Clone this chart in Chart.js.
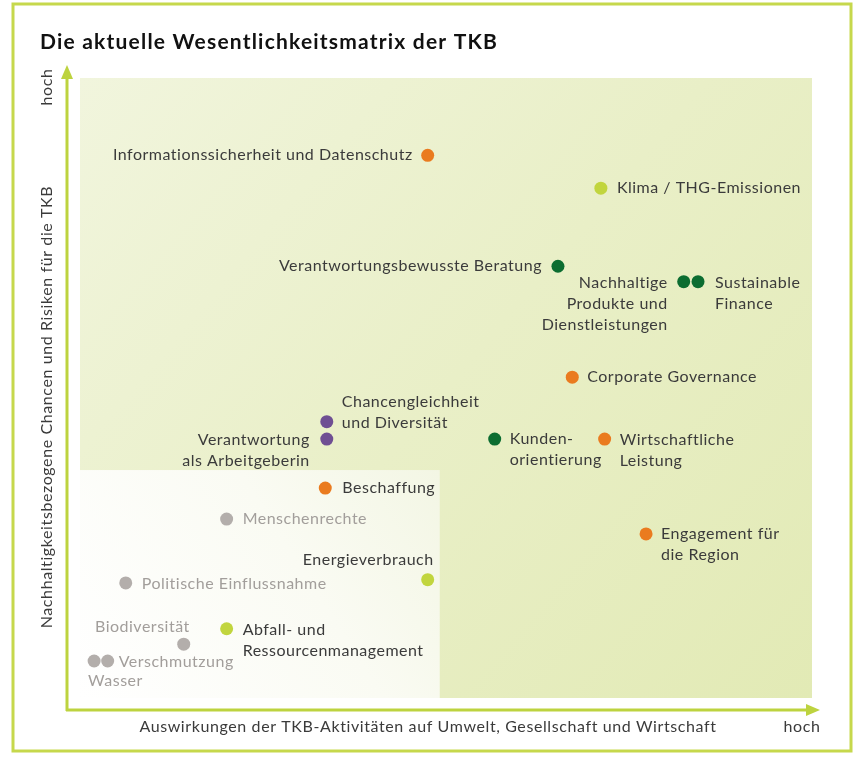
<!DOCTYPE html>
<html lang="de">
<head>
<meta charset="utf-8">
<title>Wesentlichkeitsmatrix TKB</title>
<script src="https://cdn.jsdelivr.net/npm/chart.js@4/dist/chart.umd.min.js"></script>
<style>
  html, body { margin: 0; padding: 0; background: #fff; }
  #wrap { position: relative; width: 861px; height: 759px; }
</style>
</head>
<body>
<div id="wrap"><canvas id="matrix" width="861" height="759"></canvas></div>
<script>
const matrix = document.getElementById('matrix')

// Themen der Matrix (Zeilenumbrüche wie im Original)
const topics = [
  'Informationssicherheit und Datenschutz',
  'Klima / THG-Emissionen',
  'Verantwortungsbewusste Beratung',
  'Nachhaltige\nProdukte und\nDienstleistungen',
  'Sustainable\nFinance',
  'Corporate Governance',
  'Chancengleichheit\nund Diversität',
  'Verantwortung\nals Arbeitgeberin',
  'Kunden-\norientierung',
  'Wirtschaftliche\nLeistung',
  'Beschaffung',
  'Menschenrechte',
  'Engagement für\ndie Region',
  'Energieverbrauch',
  'Politische Einflussnahme',
  'Biodiversität',
  'Abfall- und\nRessourcenmanagement',
  'Wasser',
  'Verschmutzung'
]
// Auswirkungen (x) und Chancen/Risiken (y), Skala 0..100
const impact = [47.9, 70.9, 65.2, 81.9, 83.8, 67.1, 34.5, 34.5, 56.8, 71.4, 34.3, 21.2, 76.9, 47.9, 7.8, 15.5, 21.2, 3.6, 5.4]
const relevance = [86.0, 80.9, 68.8, 66.4, 66.4, 51.6, 44.7, 42.0, 42.0, 42.0, 34.4, 29.6, 27.3, 20.2, 19.7, 10.2, 12.6, 7.6, 7.6]
const dimension = ['gov', 'env', 'eco', 'eco', 'eco', 'gov', 'soc', 'soc', 'eco', 'gov', 'gov', 'minor', 'gov', 'env', 'minor', 'minor', 'env', 'minor', 'minor']
// Grenze des Bereichs mit geringer Wesentlichkeit
const lowZone = { x: 49.5, y: 37.2 }

const colors = {
  gov: '#ea7b1f',
  env: '#c1d53e',
  eco: '#0c6d31',
  soc: '#6f4f93',
  minor: '#b3aeab'
}
const axisColor = '#bdd33f'
const textDark = '#3b3b3b'
const textGrey = '#a29e9b'
const fontFamily = 'Lato, "Open Sans", sans-serif'
const fontSize = 16
const lineHeight = 21

// Position der Beschriftung relativ zum Punkt
const labelPlacement = [
  { align: 'right', dx: -15, dy: 0 },
  { align: 'left', dx: 16, dy: 0 },
  { align: 'right', dx: -16, dy: 0 },
  { align: 'right', dx: -16, dy: 1 },
  { align: 'left', dx: 17, dy: 1 },
  { align: 'left', dx: 15, dy: 0 },
  { align: 'left', dx: 15, dy: -20 },
  { align: 'right', dx: -17, dy: 1 },
  { align: 'left', dx: 15, dy: 0 },
  { align: 'left', dx: 15, dy: 1 },
  { align: 'left', dx: 17, dy: 0 },
  { align: 'left', dx: 16, dy: 0 },
  { align: 'left', dx: 15, dy: 0 },
  { align: 'right', dx: 6, dy: -20 },
  { align: 'left', dx: 16, dy: 1 },
  { align: 'right', dx: 6, dy: -17 },
  { align: 'left', dx: 16, dy: 1 },
  { align: 'left', dx: -6, dy: 20 },
  { align: 'left', dx: 11, dy: 1 }
]

const matrixDecor = {
  id: 'matrixDecor',
  beforeDatasetsDraw(chart) {
    const {ctx, chartArea, scales} = chart
    const x = scales.x, y = scales.y
    ctx.save()

    // Rahmen
    ctx.strokeStyle = '#c6d84c'
    ctx.lineWidth = 3
    ctx.strokeRect(13, 4, 838, 747)

    // Titel
    ctx.fillStyle = '#111'
    ctx.font = 'bold 21px ' + fontFamily
    ctx.letterSpacing = '1.2px'
    ctx.textBaseline = 'alphabetic'
    ctx.textAlign = 'left'
    ctx.fillText('Die aktuelle Wesentlichkeitsmatrix der TKB', 40, 49)
    ctx.letterSpacing = '0px'

    // Hintergrund der Matrix
    const left = chartArea.left + 13, right = chartArea.right - 8
    const top = chartArea.top + 13, bottom = chartArea.bottom - 12
    const g = ctx.createLinearGradient(left, top, right, bottom)
    g.addColorStop(0, '#f1f5dd')
    g.addColorStop(0.5, '#e9efc7')
    g.addColorStop(1, '#e2eab5')
    ctx.fillStyle = g
    ctx.fillRect(left, top, right - left, bottom - top)

    const zx = x.getPixelForValue(lowZone.x), zy = y.getPixelForValue(lowZone.y)
    const g2 = ctx.createLinearGradient(left, bottom, zx, zy)
    g2.addColorStop(0, '#ffffff')
    g2.addColorStop(0.6, '#fafbf3')
    g2.addColorStop(1, '#f3f6e4')
    ctx.fillStyle = g2
    ctx.fillRect(left, zy, zx - left, bottom - zy)

    // Achsen mit Pfeilen
    const ox = chartArea.left, oy = chartArea.bottom
    ctx.strokeStyle = axisColor
    ctx.fillStyle = axisColor
    ctx.lineWidth = 3
    ctx.beginPath()
    ctx.moveTo(ox, oy + 1)
    ctx.lineTo(ox, chartArea.top + 10)
    ctx.moveTo(ox - 1, oy)
    ctx.lineTo(chartArea.right - 10, oy)
    ctx.stroke()
    ctx.beginPath()
    ctx.moveTo(ox, chartArea.top)
    ctx.lineTo(ox - 6, chartArea.top + 14)
    ctx.lineTo(ox + 6, chartArea.top + 14)
    ctx.closePath()
    ctx.fill()
    ctx.beginPath()
    ctx.moveTo(chartArea.right, oy)
    ctx.lineTo(chartArea.right - 14, oy - 6)
    ctx.lineTo(chartArea.right - 14, oy + 6)
    ctx.closePath()
    ctx.fill()

    // Achsentitel
    ctx.fillStyle = textDark
    ctx.font = '16px ' + fontFamily
    ctx.letterSpacing = '0.6px'
    ctx.textBaseline = 'middle'
    ctx.textAlign = 'center'
    ctx.fillText('Auswirkungen der TKB-Aktivitäten auf Umwelt, Gesellschaft und Wirtschaft', 428, 727)
    ctx.fillText('hoch', 802, 727)
    ctx.save()
    ctx.translate(47, 407)
    ctx.rotate(-Math.PI / 2)
    ctx.fillText('Nachhaltigkeitsbezogene Chancen und Risiken für die TKB', 0, 0)
    ctx.restore()
    ctx.save()
    ctx.translate(47, 87)
    ctx.rotate(-Math.PI / 2)
    ctx.fillText('hoch', 0, 0)
    ctx.restore()

    ctx.restore()
  },
  afterDatasetsDraw(chart) {
    const {ctx} = chart
    const meta = chart.getDatasetMeta(0)
    ctx.save()
    ctx.font = fontSize + 'px ' + fontFamily
    ctx.letterSpacing = '0.5px'
    ctx.textBaseline = 'middle'
    meta.data.forEach((pt, i) => {
      const p = labelPlacement[i]
      ctx.fillStyle = dimension[i] === 'minor' ? textGrey : textDark
      ctx.textAlign = p.align
      topics[i].split('\n').forEach((line, k) => {
        ctx.fillText(line, pt.x + p.dx, pt.y + p.dy + k * lineHeight)
      })
    })
    ctx.restore()
  }
}

new Chart(matrix, {
  type: 'scatter',
  data: {
    datasets: [{
      label: 'Themen',
      data: topics.map((t, i) => ({x: impact[i], y: relevance[i]})),
      backgroundColor: dimension.map(d => colors[d]),
      borderWidth: 0,
      pointRadius: 6.5,
      pointHoverRadius: 6.5
    }]
  },
  options: {
    responsive: false,
    animation: false,
    layout: {
      padding: {left: 67, right: 41, top: 65, bottom: 49}
    },
    scales: {
      x: {type: 'linear', min: 0, max: 100, display: false},
      y: {type: 'linear', min: 0, max: 100, display: false}
    },
    plugins: {
      legend: {display: false},
      tooltip: {enabled: false}
    }
  },
  plugins: [matrixDecor]
})
</script>
</body>
</html>
